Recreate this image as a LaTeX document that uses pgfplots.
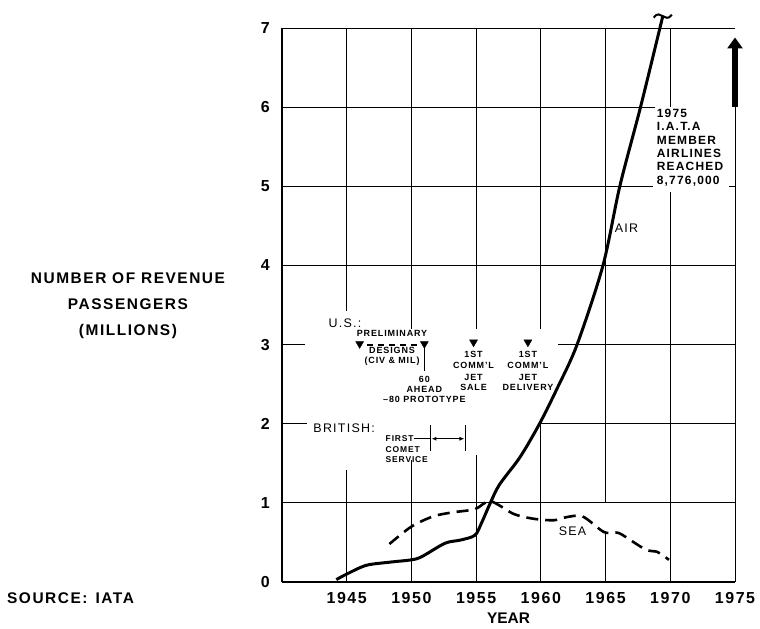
\documentclass[border=0pt]{standalone}
\usepackage{fontspec}
\setmainfont{Liberation Sans}[LetterSpace=10]
\usepackage{pgfplots}
\pgfplotsset{compat=1.18}
\usetikzlibrary{arrows.meta,calc}
\newcommand\fs[1]{\fontsize{#1}{#1}\selectfont}
\newcommand\fsb[2]{\fontsize{#1}{#2}\selectfont}
\tikzset{gl/.style={line width=0.9bp, black}}
\begin{document}
\begin{tikzpicture}
\begin{axis}[
  name=ax,
  scale only axis, width=453bp, height=554bp,
  xmin=1940, xmax=1975, ymin=0, ymax=7,
  axis x line=bottom, axis y line=left,
  axis line style={-, line width=2.3bp},
  xtick={1945,1950,1955,1960,1965,1970,1975},
  xticklabels={1945,1950,1955,1960,1965,1970,1975},
  ytick={0,1,2,3,4,5,6,7},
  yticklabels={0,1,2,3,4,5,6,7},
  major tick length=0pt,
  tick style={draw=none},
  xticklabel style={font=\fs{16}\bfseries, anchor=north, inner sep=0pt, yshift=-10bp},
  yticklabel style={font=\fs{16}\bfseries, anchor=east, inner sep=0pt, xshift=-12bp},
  clip=false,
]
% ---- grid segments
\draw[gl] (axis cs:1940,1) -- (axis cs:1975,1);
\draw[gl] (axis cs:1940,2) -- (axis cs:1941.9,2);
\draw[gl] (axis cs:1960,2) -- (axis cs:1975,2);
\draw[gl] (axis cs:1940,3) -- (axis cs:1941.8,3);
\draw[gl] (axis cs:1961.35,3) -- (axis cs:1975,3);
\draw[gl] (axis cs:1940,4) -- (axis cs:1975,4);
\draw[gl] (axis cs:1940,5) -- (axis cs:1968.7,5);
\draw[gl] (axis cs:1974.5,5) -- (axis cs:1975,5);
\draw[gl] (axis cs:1940,6) -- (axis cs:1968.8,6);
\draw[gl] (axis cs:1940,7) -- (axis cs:1975,7);
\draw[gl] (axis cs:1945,0) -- (axis cs:1945,1.42);
\draw[gl] (axis cs:1945,3.42) -- (axis cs:1945,7);
\draw[gl] (axis cs:1950,0) -- (axis cs:1950,1.54);
\draw[gl] (axis cs:1950,3.2) -- (axis cs:1950,7);
\draw[gl] (axis cs:1955,0) -- (axis cs:1955,1.6);
\draw[gl] (axis cs:1955,3.2) -- (axis cs:1955,7);
\draw[gl] (axis cs:1960,0) -- (axis cs:1960,2.03);
\draw[gl] (axis cs:1960,3.2) -- (axis cs:1960,7);
\draw[gl] (axis cs:1965,0) -- (axis cs:1965,0.62);
\draw[gl] (axis cs:1965,1.0) -- (axis cs:1965,7);
\draw[gl] (axis cs:1970,0) -- (axis cs:1970,4.93);
\draw[gl] (axis cs:1970,6.0) -- (axis cs:1970,7);
\draw[gl] (axis cs:1975,0) -- (axis cs:1975,6.0);
% ---- AIR
\addplot[line width=3bp, smooth, no marks] coordinates {
(1944.2,0.03) (1945.0,0.10) (1946.5,0.21) (1948.3,0.25) (1950.0,0.28)
(1950.8,0.32) (1952.6,0.49) (1953.8,0.53) (1954.9,0.59) (1955.4,0.74)
(1956.1,1.00) (1956.8,1.23) (1958.4,1.58) (1959.9,2.00) (1961.3,2.46)
(1962.8,3.00) (1964.8,4.00) (1966.1,5.00) (1967.7,6.00) (1969.2,7.00)
(1969.42,7.15)};
% ---- SEA
\addplot[line width=2.6bp, smooth, no marks, dash pattern=on 12bp off 7bp] coordinates {
(1948.3,0.48) (1950.0,0.70) (1951.7,0.83) (1953.2,0.88) (1954.9,0.92)
(1956.1,1.02) (1957.9,0.86) (1959.4,0.80) (1961.0,0.78) (1962.0,0.82)
(1963.2,0.83) (1964.6,0.66) (1965.1,0.62) (1966.0,0.62) (1967.1,0.51)
(1968.2,0.40) (1969.0,0.38) (1969.9,0.28)};
% ---- milestone triangles
\addplot[only marks, mark=triangle*, mark size=4.6bp, mark options={rotate=180, fill=black, draw=black}]
  coordinates {(1946,3.01) (1951,3.01) (1954.8,3.03) (1959,3.03)};
\addplot[line width=2bp, no marks, dash pattern=on 6bp off 5bp] coordinates {(1946.6,3.0) (1950.4,3.0)};
\addplot[line width=1bp, no marks] coordinates {(1951,3.0) (1951,2.66)};
% ---- 1975 arrow
\addplot[line width=6bp, no marks, -{Triangle[width=15bp,length=11bp]}] coordinates {(1975,6.0) (1975,6.88)};
% ---- British comet bracket
\draw[line width=1bp] (axis cs:1950.2,1.81) -- (axis cs:1951.44,1.81);
\draw[line width=1bp] (axis cs:1951.44,1.65) -- (axis cs:1951.44,1.98);
\draw[line width=1bp] (axis cs:1954.2,1.65) -- (axis cs:1954.2,1.98);
\draw[line width=1bp, {Latex[length=5bp,width=4bp]}-{Latex[length=5bp,width=4bp]}] (axis cs:1951.55,1.81) -- (axis cs:1954.1,1.81);
% ---- labels
\node[font=\fs{12.5}] at (axis cs:1944.87,3.27) {U.S.:};
\node[font=\fs{9}\bfseries] at (axis cs:1948.5,3.14) {PRELIMINARY};
\node[font=\fsb{9}{10}\bfseries, align=center, inner sep=0pt] at (axis cs:1948.5,2.85) {DESIGNS\\(CIV \& MIL)};
\node[font=\fsb{9}{10}\bfseries, align=center, inner sep=0pt] at (axis cs:1951.0,2.435) {60\\AHEAD\\–80 PROTOTYPE};
\node[font=\fsb{9}{10.5}\bfseries, align=center, inner sep=0pt] at (axis cs:1954.8,2.665) {1ST\\COMM'L\\[1.5bp]JET\\SALE};
\node[font=\fsb{9}{10.5}\bfseries, align=center, inner sep=0pt] at (axis cs:1959.0,2.665) {1ST\\COMM'L\\[1.5bp]JET\\DELIVERY};
\node[font=\fs{12.5}] at (axis cs:1944.8,1.94) {BRITISH:};
\node[font=\fsb{8.5}{10.5}\bfseries, align=left, anchor=west, inner sep=0pt] at (axis cs:1948.0,1.675) {FIRST\\COMET\\SERVICE};
\node[font=\fs{12.5}, anchor=west, inner sep=0pt] at (axis cs:1965.7,4.47) {AIR};
\node[font=\fs{12.5}, inner sep=0pt] at (axis cs:1962.45,0.64) {SEA};
\node[font=\fsb{12}{13.5}\bfseries, align=left, anchor=west, inner sep=0pt] at (axis cs:1968.95,5.49)
  {1975\\I.A.T.A\\MEMBER\\AIRLINES\\REACHED\\8,776,000};
\node[font=\fsb{15.5}{26}\bfseries, align=center, inner sep=0pt] at (axis cs:1928.1,3.49) {NUMBER OF REVENUE\\PASSENGERS\\(MILLIONS)};
\node[font=\fs{15.5}\bfseries, anchor=west, inner sep=0pt] at (axis cs:1918.75,-0.20) {SOURCE:\hspace{8bp}IATA};
\node[font=\fs{15.5}\bfseries\addfontfeature{LetterSpace=0}, inner sep=0pt] at (axis cs:1957.5,-0.455) {YEAR};
\coordinate (tl) at (axis cs:1969.42,7.15);
\end{axis}
\draw[line width=2bp] ([shift={(-9bp,-1.5bp)}]tl) .. controls ([shift={(-5bp,4bp)}]tl) and ([shift={(-3bp,1bp)}]tl) .. (tl)
  .. controls ([shift={(3bp,-1bp)}]tl) and ([shift={(5bp,-4bp)}]tl) .. ([shift={(9bp,1.5bp)}]tl);
\pgfresetboundingbox
\path[use as bounding box] ([shift={(-282bp,-47bp)}]ax.south west) rectangle ([shift={(25bp,28bp)}]ax.north east);
\end{tikzpicture}
\end{document}
